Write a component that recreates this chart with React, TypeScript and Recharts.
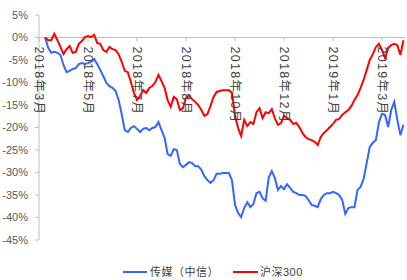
import { Line, LineChart, ReferenceLine, XAxis, YAxis } from "recharts";

// 沪深300 and 传媒（中信） cumulative return (%), sampled along the period
const hs300 = [
  0, -0.6, -0.6, 0.8, -0.6, -2.1, -3.7, -2.6, -1.9, -3.4, -3.2, -1.4, -0.8, 0.1, 0.3, 0.1,
  0.6, -1.2, -1.4, -2.8, -3.2, -2.1, -2.6, -2.8, -3.7, -5.4, -7.4, -7.7, -9.9, -12.3, -13.9,
  -13.0, -11.7, -12.3, -11.2, -10.8, -9.9, -8.3, -9.7, -11.2, -13.9, -15.4, -13.2, -13.7,
  -16.1, -15.7, -13.4, -13.0, -13.7, -14.3, -15.0, -16.1, -17.4, -17.0, -15.2, -13.2, -12.1,
  -11.9, -11.7, -11.7, -11.7, -12.3, -17.4, -20.1, -21.9, -18.3, -19.7, -18.8, -19.2, -16.6,
  -15.7, -17.9, -16.6, -16.8, -15.9, -17.9, -19.4, -19.0, -17.4, -17.9, -18.3, -19.2, -19.0,
  -19.9, -21.2, -22.1, -22.6, -22.8, -23.2, -23.9, -22.1, -21.2, -20.6, -19.9, -19.2, -18.3,
  -18.1, -17.2, -16.6, -16.1, -15.2, -13.9, -12.8, -11.2, -9.4, -7.2, -5.0, -3.7, -2.1, -1.4,
  -2.8, -4.6, -2.3, -1.7, -1.4, -1.7, -3.9, -0.6,
];

const media = [
  0, -2.3, -3.4, -3.2, -3.4, -3.9, -6.1, -7.7, -7.4, -7.0, -6.8, -5.9, -5.7, -5.9, -5.7, -5.4,
  -4.8, -5.9, -7.2, -8.6, -10.1, -10.8, -11.2, -11.9, -13.9, -17.0, -20.6, -21.0, -20.1,
  -19.7, -20.3, -21.0, -20.3, -20.1, -20.6, -20.1, -19.9, -18.8, -20.6, -22.3, -25.9, -26.3,
  -24.8, -25.0, -28.1, -28.8, -28.3, -27.7, -27.9, -28.6, -28.6, -29.4, -30.8, -31.7, -32.3,
  -31.7, -30.3, -30.3, -30.1, -30.1, -30.1, -31.7, -37.2, -39.0, -39.9, -37.9, -36.6, -37.7,
  -37.0, -34.6, -34.3, -35.7, -36.3, -31.2, -29.7, -31.2, -33.9, -33.0, -33.7, -32.6, -33.4,
  -34.3, -34.6, -35.0, -35.0, -35.2, -36.1, -37.2, -37.4, -37.7, -35.9, -35.0, -34.6, -34.6,
  -34.3, -34.6, -35.0, -36.1, -39.2, -37.9, -37.7, -37.7, -33.9, -33.2, -31.4, -27.9, -24.3,
  -23.4, -22.8, -18.8, -17.0, -17.2, -19.9, -16.1, -14.3, -18.3, -21.7, -19.4,
];

const monthLabels = [
  "2018年3月",
  "2018年5月",
  "2018年7月",
  "2018年8月",
  "2018年10月",
  "2018年12月",
  "2019年1月",
  "2019年3月",
];
const yTicks = [5, 0, -5, -10, -15, -20, -25, -30, -35, -40, -45];

const FIRST = 2; // first sample sits a little right of the axis
const STEP = 16; // samples between month labels
const rows = hs300.map((v, k) => ({ i: k + FIRST, hs300: v, media: media[k] }));

const TOP = 15;
const PLOT_H = 225;
const Y0 = TOP + (PLOT_H * 5) / 50; // pixel row of 0%

const FONT = "'Liberation Sans', Arial, 'Noto Sans CJK SC', sans-serif";
const BLUE = "#3366FF";
const RED = "#FF0000";

function MonthTick(props: any) {
  const { x, payload } = props;
  const label = monthLabels[Math.round(payload.value / STEP)];
  return (
    <g>
      <line x1={x} x2={x} y1={Y0} y2={Y0 + 4} stroke="#BFBFBF" />
      <text
        transform={`translate(${x},${Y0 + 9}) rotate(90)`}
        textAnchor="start"
        dominantBaseline="central"
        fontSize={12.5}
        letterSpacing={1.3}
        fill="#404040"
        fontFamily={FONT}
      >
        {label}
      </text>
    </g>
  );
}

export default function App() {
  return (
    <div style={{ position: "absolute", left: 0, top: 0, width: 407, height: 280, background: "#fff" }}>
      <LineChart width={407} height={280} data={rows} margin={{ top: TOP, right: 2, bottom: 280 - TOP - PLOT_H - 20, left: 0 }}>
        <XAxis
          dataKey="i"
          type="number"
          domain={[0, 119.5]}
          ticks={monthLabels.map((_, k) => k * STEP)}
          height={20}
          axisLine={false}
          tickLine={false}
          tick={(p: any) => <MonthTick {...p} />}
          interval={0}
        />
        <YAxis
          width={39}
          domain={[-45, 5]}
          ticks={yTicks}
          tickFormatter={(v) => `${v}%`}
          axisLine={{ stroke: "#BFBFBF" }}
          tickLine={{ stroke: "#BFBFBF" }}
          tickSize={4}
          tickMargin={7}
          tick={{ fontSize: 11, fill: "#595959", fontFamily: FONT }}
        />
        <ReferenceLine y={0} stroke="#BFBFBF" />
        <Line dataKey="media" stroke={BLUE} strokeWidth={2} dot={false} isAnimationActive={false} />
        <Line dataKey="hs300" stroke={RED} strokeWidth={2} dot={false} isAnimationActive={false} />
      </LineChart>
      <div
        style={{
          position: "absolute",
          left: 123,
          top: 263,
          display: "flex",
          fontFamily: FONT,
          fontSize: 11,
          letterSpacing: 0.5,
          color: "#404040",
          lineHeight: "18px",
          whiteSpace: "nowrap",
        }}
      >
        <span style={{ display: "flex", alignItems: "center", width: 110 }}>
          <span style={{ width: 24, height: 2, background: BLUE, marginRight: 3 }} />
          传媒（中信）
        </span>
        <span style={{ display: "flex", alignItems: "center" }}>
          <span style={{ width: 25, height: 2, background: RED, marginRight: 2 }} />
          沪深300
        </span>
      </div>
    </div>
  );
}
